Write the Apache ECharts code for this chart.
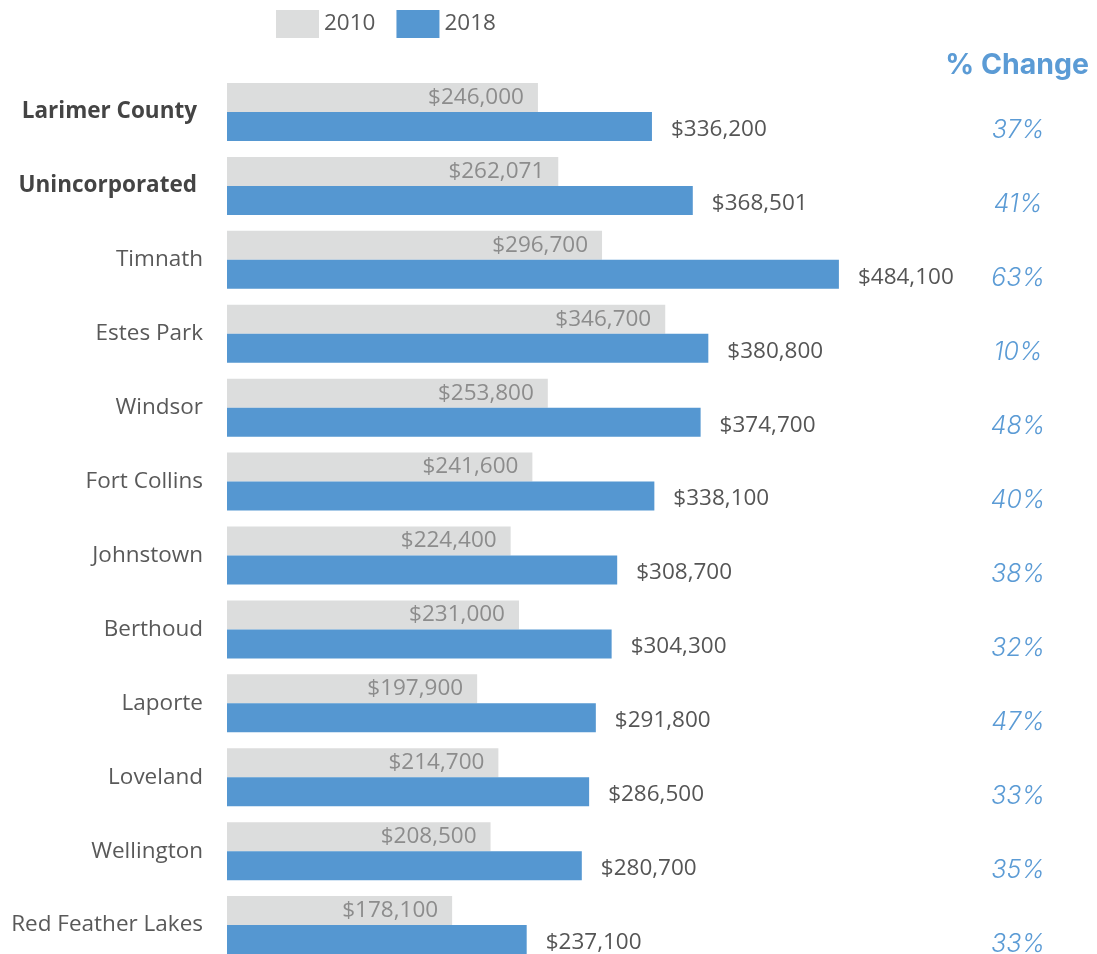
<!DOCTYPE html>
<html>
<head>
<meta charset="utf-8">
<script src="https://cdn.jsdelivr.net/npm/echarts@6/dist/echarts.min.js"></script>
<style>html,body{margin:0;padding:0;background:#fff;overflow:hidden;}#c{width:1097px;height:963px;}</style>
</head>
<body>
<div id="c"></div>
<script>
var categories = ['Larimer County','Unincorporated','Timnath','Estes Park','Windsor','Fort Collins','Johnstown','Berthoud','Laporte','Loveland','Wellington','Red Feather Lakes'];
var values2010 = [246000,262071,296700,346700,253800,241600,224400,231000,197900,214700,208500,178100];
var values2018 = [336200,368501,484100,380800,374700,338100,308700,304300,291800,286500,280700,237100];
var pctChange = [37,41,63,10,48,40,38,32,47,33,35,33];
var boldCats = ['Larimer County','Unincorporated'];

function money(v){ return '$' + v.toLocaleString('en-US'); }
var FONT = 'Open Sans';
var FONT2 = 'Inter';

var chart = echarts.init(document.getElementById('c'));
chart.setOption({
  animation:false,
  textStyle:{fontFamily:FONT},
  title:{
    text:'% Change', right:3, top:46,
    textStyle:{fontFamily:FONT2, fontWeight:'bold', fontSize:28.5, color:'#5b9bd5'}
  },
  legend:{
    left:271, top:5, itemWidth:43, itemHeight:28, itemGap:21,
    icon:'rect',
    textStyle:{fontSize:22.5, color:'#595959', fontFamily:FONT},
    data:['2010','2018']
  },
  grid:{left:227, top:75, right:238, bottom:0, containLabel:false},
  xAxis:{type:'value', min:0, max:500000, show:false},
  yAxis:[{
    type:'category', data:categories, inverse:true,
    axisLine:{show:false}, axisTick:{show:false},
    axisLabel:{
      margin:24, fontSize:22.5, color:'#595959', fontFamily:FONT,
      formatter:function(v){ return boldCats.indexOf(v)>=0 ? '{b|'+v+'}' : v; },
      rich:{b:{fontWeight:'bold', fontSize:22.5, color:'#444', fontFamily:FONT, padding:[0,6,0,0]}}
    }
  },{
    type:'category', data:categories, inverse:true, position:'right',
    axisLine:{show:false}, axisTick:{show:false},
    axisLabel:{
      margin:159, align:'center', verticalAlign:'top', lineHeight:38,
      fontSize:25, fontStyle:'italic', color:'#5b9bd5',
      fontFamily:FONT2, fontWeight:300,
      formatter:function(v,i){ return pctChange[i] + '%'; }
    }
  }],
  series:[{
    name:'2010', type:'bar', data:values2010, barWidth:29, barGap:'0%',
    itemStyle:{color:'#dcdddd'},
    label:{show:true, position:'insideRight', distance:14, fontSize:22.5, fontFamily:FONT, color:'#8c8c8c', formatter:function(p){return money(p.value);}}
  },{
    name:'2018', type:'bar', data:values2018, barWidth:29, barGap:'0%',
    itemStyle:{color:'#5597d1'},
    label:{show:true, position:'right', distance:19, fontSize:22.5, fontFamily:FONT, color:'#555', offset:[0,3], formatter:function(p){return money(p.value);}}
  }]
});
</script>
</body>
</html>
